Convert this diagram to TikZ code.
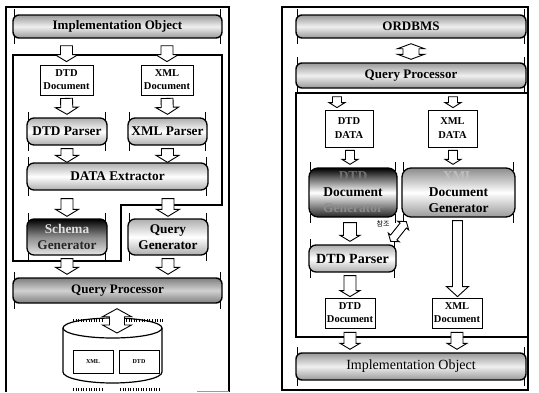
\documentclass[tikz,border=0pt]{standalone}
\usepackage{fontspec}
\setmainfont{Liberation Serif}
\newfontfamily\krfont{Noto Sans CJK KR}
\usetikzlibrary{calc}
\newcommand\fsz[2]{\fontsize{#1}{#2}\selectfont}

\tikzset{
  frame/.style={draw, line width=1.1pt},
  tickline/.style={draw, line width=0.6pt},
  ticked/.style={append after command={
    ([xshift=2pt,yshift=5pt]\tikzlastnode.north west) edge[tickline] ([xshift=2pt,yshift=-4pt]\tikzlastnode.north west)
    ([xshift=-2pt,yshift=5pt]\tikzlastnode.north east) edge[tickline] ([xshift=-2pt,yshift=-4pt]\tikzlastnode.north east)
    ([xshift=2pt,yshift=-5pt]\tikzlastnode.south west) edge[tickline] ([xshift=2pt,yshift=4pt]\tikzlastnode.south west)
    ([xshift=-2pt,yshift=-5pt]\tikzlastnode.south east) edge[tickline] ([xshift=-2pt,yshift=4pt]\tikzlastnode.south east)}},
  bar/.style={draw, line width=1.4pt, rounded corners=6pt, inner sep=0pt, align=center,
    top color=black!40, bottom color=black!40, middle color=black!6,
    font=\bfseries\fsz{13}{15}, ticked},
  rbox/.style={draw, line width=1.3pt, rounded corners=7pt, inner sep=0pt, align=center,
    top color=black!32, bottom color=black!32, middle color=white,
    font=\bfseries\fsz{13.3}{16}, ticked},
  docbox/.style={draw, line width=0.8pt, fill=white, inner sep=0pt, align=center,
    font=\bfseries\fsz{10.5}{13}},
  cell/.style={draw, line width=0.8pt, fill=white, inner sep=0pt, font=\bfseries\fsz{6}{7}},
  % hollow block arrows drawn between two points
  blkw/.store in=\blkw, blkh/.store in=\blkh, blkl/.store in=\blkl,
  blkw=6pt, blkh=11.5pt, blkl=7pt,
  small/.style={blkw=4.5pt, blkh=8pt, blkl=5pt},
  blk/.style={draw, fill=white, line width=0.9pt, line join=miter, to path={
    let \p1=(\tikztostart), \p2=(\tikztotarget), \p3=($(\p2)!\blkl!(\p1)$) in
    ($(\p1)!\blkw!90:(\p2)$) -- ($(\p3)!\blkw!90:(\p2)$) -- ($(\p3)!\blkh!90:(\p2)$) -- (\p2)
    -- ($(\p3)!\blkh!-90:(\p2)$) -- ($(\p3)!\blkw!-90:(\p2)$) -- ($(\p1)!\blkw!-90:(\p2)$) -- cycle}},
  dblk/.style={draw, fill=white, line width=0.9pt, line join=miter, to path={
    let \p1=(\tikztostart), \p2=(\tikztotarget), \p3=($(\p2)!\blkl!(\p1)$), \p4=($(\p1)!\blkl!(\p2)$) in
    (\p1) -- ($(\p4)!\blkh!90:(\p2)$) -- ($(\p4)!\blkw!90:(\p2)$) -- ($(\p3)!\blkw!90:(\p2)$)
    -- ($(\p3)!\blkh!90:(\p2)$) -- (\p2) -- ($(\p3)!\blkh!-90:(\p2)$) -- ($(\p3)!\blkw!-90:(\p2)$)
    -- ($(\p4)!\blkw!-90:(\p2)$) -- ($(\p4)!\blkh!-90:(\p2)$) -- cycle}},
}

\begin{document}
\begin{tikzpicture}[x=1pt, y=-1pt]
\useasboundingbox (0,0) rectangle (539,392);

% ---------------- left panel: storing documents ----------------
\draw[frame] (6,392) -- (6,7) -- (229,7) -- (229,392);
\draw[black!40, line width=0.8pt] (197,391) -- (229,391);
\draw[frame] (13,55) -- (222,55) -- (222,205) -- (121,205) -- (121,261) -- (13,261) -- cycle;

\node[bar, minimum width=209pt, minimum height=23pt] (impl1) at (117.5,26.5) {Implementation Object};
\node[docbox, minimum width=53pt, minimum height=30pt] (dtddoc1) at (66.5,80) {DTD\\Document};
\node[docbox, minimum width=52pt, minimum height=30pt] (xmldoc1) at (167,80) {XML\\Document};
\node[rbox, minimum width=80pt, minimum height=27pt] (dtdp1) at (67,131.5) {DTD Parser};
\node[rbox, minimum width=79pt, minimum height=27pt] (xmlp1) at (167.5,131.5) {XML Parser};
\node[rbox, minimum width=181pt, minimum height=27pt] (extr) at (117.5,176.5) {DATA Extractor};
\node[rbox, minimum width=80pt, minimum height=36pt, top color=black, bottom color=black!10, middle color=black!45] (schema) at (67,237)
  {\textcolor{black!12}{Schema}\\\textcolor{black!85}{Generator}};
\node[rbox, minimum width=80pt, minimum height=36pt] (qgen) at (168,237) {Query\\Generator};
\node[bar, minimum width=209pt, minimum height=25pt, top color=black!50, bottom color=black!50, middle color=black!18] (qp1) at (117.5,290.5) {Query Processor};

% database drum
\draw[line width=1.2pt, fill=white] (63,328) -- (63,372) arc[start angle=180, end angle=360, x radius=49.5pt, y radius=11pt] -- (162,328);
\draw[line width=1.2pt, fill=white] (112.5,328) ellipse[x radius=49.5pt, y radius=10pt];
\coordinate (dbtop) at (117,333);
\node[cell, minimum width=40pt, minimum height=23pt] (xmlcell) at (93,362) {XML};
\node[cell, minimum width=40pt, minimum height=23pt] (dtdcell) at (139,362) {DTD};
\draw[line width=3pt, dash pattern=on 0.6pt off 2pt] (73,320) -- (103,320) (126,320) -- (163,320);
\draw[line width=3pt, dash pattern=on 0.6pt off 2pt] (73,389) -- (103,389) (120,389) -- (160,389);

\draw[blk] ([yshift=-7pt]dtddoc1.north |- impl1.south) to ([yshift=3pt]dtddoc1.north);
\draw[blk] ([yshift=-7pt]xmldoc1.north |- impl1.south) to ([yshift=3pt]xmldoc1.north);
\draw[blk] ([yshift=-3pt]dtddoc1.south) to ([yshift=3pt]dtdp1.north);
\draw[blk] ([yshift=-3pt]xmldoc1.south) to ([yshift=3pt]xmlp1.north);
\draw[blk] ([yshift=-3pt]dtdp1.south) to (dtdp1.south |- extr.north);
\draw[blk] ([yshift=-3pt]xmlp1.south) to (xmlp1.south |- extr.north);
\draw[blk] ([yshift=-8pt]schema.north |- extr.south) to ([yshift=2pt]schema.north);
\draw[blk] ([yshift=-8pt]qgen.north |- extr.south) to ([yshift=2pt]qgen.north);
\draw[blk] ([yshift=-3pt]schema.south) to ([yshift=3pt]schema.south |- qp1.north);
\draw[blk] ([yshift=-3pt]qgen.south) to ([yshift=3pt]qgen.south |- qp1.north);
\draw[dblk, blkw=7.5pt, blkh=14.5pt, blkl=8pt] ([yshift=-5pt]dbtop |- qp1.south) to (dbtop);

% ---------------- right panel: rebuilding documents ----------------
\draw[frame] (282,7) rectangle (528,390);
\draw[frame] (296,93) rectangle (528,337);

\node[bar, minimum width=230pt, minimum height=23pt] (ordbms) at (411,26.5) {ORDBMS};
\node[bar, minimum width=230pt, minimum height=25pt] (qp2) at (411,75.5) {Query Processor};
\node[docbox, minimum width=48pt, minimum height=37pt, font=\bfseries\fsz{10.5}{14}] (dtddata) at (349,128.5) {DTD\\DATA};
\node[docbox, minimum width=49pt, minimum height=37pt, font=\bfseries\fsz{10.5}{14}] (xmldata) at (452.5,128.5) {XML\\DATA};
\node[rbox, minimum width=88pt, minimum height=49pt, rounded corners=9pt, font=\bfseries\fsz{13.5}{16},
  top color=black, bottom color=black!85, middle color=white] (dtdgen) at (353,192.5)
  {\textcolor{black!55}{DTD}\\Document\\\textcolor{black!45}{Generator}};
\node[rbox, minimum width=113pt, minimum height=49pt, rounded corners=9pt, font=\bfseries\fsz{13.5}{16},
  top color=black!45, bottom color=black!40, middle color=white] (xmlgen) at (458.5,192.5)
  {\textcolor{black!25}{XML}\\Document\\Generator};
\node[rbox, minimum width=87pt, minimum height=27pt, font=\bfseries\fsz{14}{16}] (dtdp2) at (352.5,258.5) {DTD Parser};
\node[docbox, minimum width=50pt, minimum height=30pt] (dtddoc2) at (350,313) {DTD\\Document};
\node[docbox, minimum width=50pt, minimum height=30pt] (xmldoc2) at (457,313) {XML\\Document};
\node[bar, minimum width=230pt, minimum height=27pt, font=\fsz{14}{16}] (impl2) at (411,366.5) {Implementation Object};
\node[font=\krfont\fsz{7}{8}, inner sep=0pt] (ref) at (383,224) {참조};

\draw[dblk, blkw=8pt, blkh=13.5pt, blkl=5pt] ([yshift=-5pt]ordbms.south) to ([yshift=3pt]qp2.north);
\draw[blk, small] ([xshift=-12pt,yshift=-8pt]dtddata.north |- qp2.south) to ([xshift=-12pt,yshift=2pt]dtddata.north);
\draw[blk, small] ([xshift=0.5pt,yshift=-8pt]xmldata.north |- qp2.south) to ([xshift=0.5pt,yshift=2pt]xmldata.north);
\draw[blk, small, blkh=8pt] ([xshift=1pt,yshift=-3pt]dtddata.south) to ([xshift=1pt,yshift=3pt]dtddata.south |- dtdgen.north);
\draw[blk, small] ([xshift=0.5pt,yshift=-3pt]xmldata.south) to ([xshift=0.5pt,yshift=3pt]xmldata.south |- xmlgen.north);
\draw[blk, blkw=6.5pt, blkh=10pt, blkl=6pt] ([xshift=-3pt,yshift=-5pt]dtdgen.south) to ([xshift=-3pt,yshift=3pt]dtdgen.south |- dtdp2.north);
\draw[dblk, blkw=4pt, blkh=7pt, blkl=5pt] ([xshift=5pt,yshift=-4pt]xmlgen.south west) to ([xshift=-6pt,yshift=3pt]dtdp2.north east);
\draw[blk, blkw=5pt, blkh=11pt, blkl=10pt] ([xshift=0.5pt,yshift=-3pt]xmldoc2.north |- xmlgen.south) to ([xshift=0.5pt,yshift=1pt]xmldoc2.north);
\draw[blk, blkw=6pt, blkh=10pt, blkl=6pt] ([yshift=-3pt]dtddoc2.north |- dtdp2.south) to ([yshift=1pt]dtddoc2.north);
\draw[blk, blkw=6pt, blkh=10pt, blkl=6pt] ([yshift=-4pt]dtddoc2.south) to ([yshift=3pt]dtddoc2.south |- impl2.north);
\draw[blk, blkw=6pt, blkh=10pt, blkl=6pt] ([yshift=-4pt]xmldoc2.south) to ([yshift=3pt]xmldoc2.south |- impl2.north);
\end{tikzpicture}
\end{document}
